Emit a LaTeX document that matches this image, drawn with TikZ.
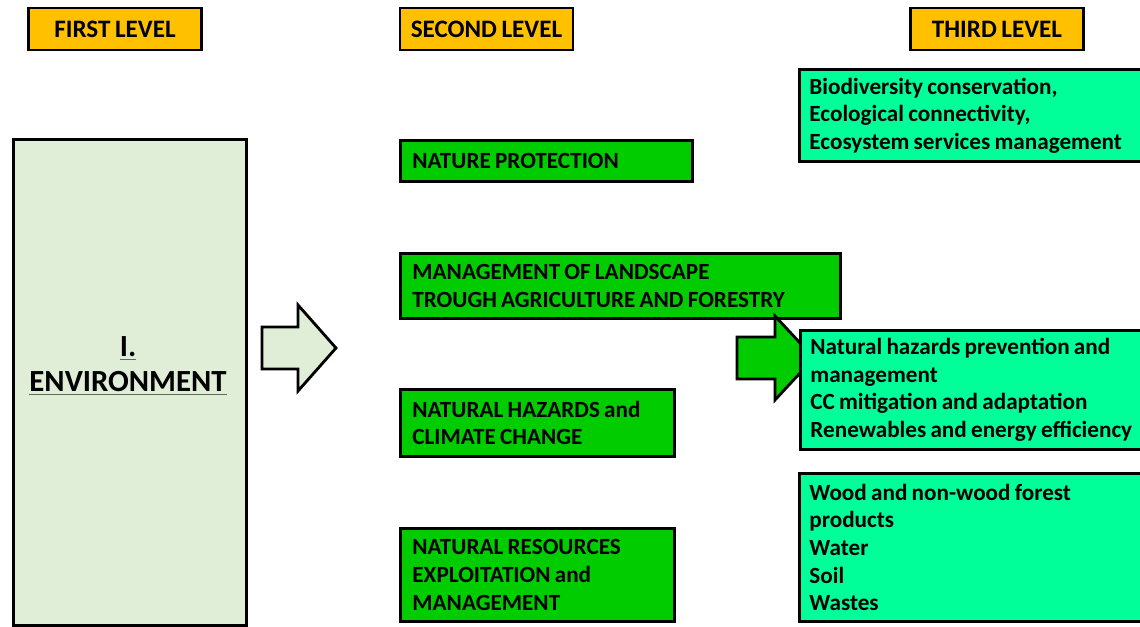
\documentclass[tikz,border=0pt]{standalone}
\usepackage{fontspec}
\setmainfont{Carlito}[WordSpace=0.8]
\usepackage{xcolor}
\usepackage{tikz}

\definecolor{levelyellow}{HTML}{FFC000}
\definecolor{topicgreen}{HTML}{00CC00}
\definecolor{itemgreen}{HTML}{00FF99}
\definecolor{envfill}{HTML}{E0EDD7}
\definecolor{ulgray}{HTML}{5E6B5A}

\begin{document}
\begin{tikzpicture}[
    x=0.02cm, y=-0.02cm,
    level/.style={draw,line width=1.6pt,fill=levelyellow,minimum width=3.46cm,minimum height=0.84cm,inner sep=0pt,font=\bfseries\fontsize{14.3}{16}\selectfont},
    topic/.style={draw,line width=1.6pt,fill=topicgreen,anchor=north west,align=flush left,inner xsep=0.24cm,inner ysep=0pt,
                  font=\bfseries\fontsize{13.2}{15.7}\selectfont},
    item/.style={topic,fill=itemgreen,inner xsep=0.2cm,text width=6.8cm,minimum width=7.2cm},
    blockarrow/.style={draw,line width=1.6pt,line join=miter},
]
    \useasboundingbox (0,0) rectangle (1140,626);
    \clip (0,0) rectangle (1140,626);

    % column headers
    \node[level] (first) at (115,29) {FIRST LEVEL};
    \node[level] (second) at (486.5,29) {SECOND LEVEL};
    \node[level] (third) at (997,29) {THIRD LEVEL};

    % first level
    \node[draw,line width=1.6pt,fill=envfill,anchor=north west,minimum width=4.66cm,minimum height=9.72cm,inner sep=0pt] (env) at (12,138) {};
    \node[align=center,font=\bfseries\fontsize{17.5}{19}\selectfont] (envtitle) at (128,366)
        {{\color{ulgray}\underline{\color{black}I.}}\\[1pt]{\color{ulgray}\underline{\color{black}ENVIRONMENT}}};
    \filldraw[blockarrow,fill=envfill] (262,327) -- (298,327) -- (298,305) -- (336,348)
        -- (298,391) -- (298,369) -- (262,369) -- cycle;

    % second level
    \node[topic,text width=5.36cm,minimum height=0.82cm] (nature) at (399,139) {NATURE PROTECTION};
    \node[topic,text width=8.32cm,minimum height=1.3cm] (landscape) at (399,252)
        {MANAGEMENT OF LANDSCAPE\\TROUGH AGRICULTURE AND FORESTRY};
    \node[topic,text width=5.0cm,minimum height=1.34cm] (hazards) at (399,388)
        {NATURAL HAZARDS and\\CLIMATE CHANGE};
    \node[topic,text width=5.0cm,minimum height=1.86cm] (resources) at (399,527)
        {NATURAL RESOURCES\\EXPLOITATION and\\MANAGEMENT};

    \filldraw[blockarrow,fill=topicgreen] (737,337) -- (775,337) -- (775,316) -- (814,358)
        -- (775,400) -- (775,379) -- (737,379) -- cycle;

    % third level
    \node[item,minimum height=1.84cm] (biodiv) at (798,68)
        {Biodiversity conservation,\\Ecological connectivity,\\Ecosystem services management};
    \node[item,minimum height=2.38cm] (climate) at (799,329)
        {Natural hazards prevention and\\management\\CC mitigation and adaptation\\Renewables and energy efficiency};
    \node[item,minimum height=2.96cm] (goods) at (798,472)
        {Wood and non-wood forest\\products\\Water\\Soil\\Wastes};
\end{tikzpicture}
\end{document}
